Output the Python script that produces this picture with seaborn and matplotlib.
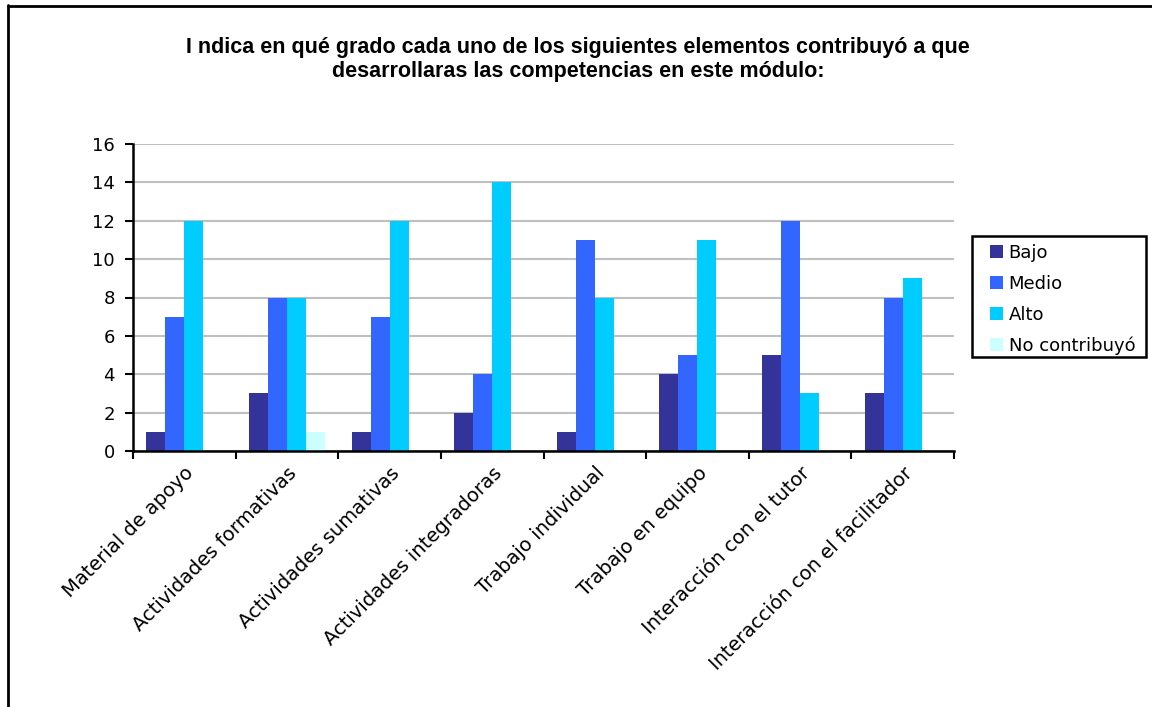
import matplotlib
matplotlib.use("Agg")
import matplotlib.pyplot as plt
import seaborn as sns
import pandas as pd
from matplotlib.lines import Line2D
from matplotlib.patches import Patch, Rectangle

categories = ["Material de apoyo", "Actividades formativas", "Actividades sumativas",
              "Actividades integradoras", "Trabajo individual", "Trabajo en equipo",
              "Interacción con el tutor", "Interacción con el facilitador"]
series = ["Bajo", "Medio", "Alto", "No contribuyó"]
bajo = [1, 3, 1, 2, 1, 4, 5, 3]
medio = [7, 8, 7, 4, 11, 5, 12, 8]
alto = [12, 8, 12, 14, 8, 11, 3, 9]
no_contribuyo = [0, 1, 0, 0, 0, 0, 0, 0]
colors = ["#333399", "#3366FF", "#00CCFF", "#CCFFFF"]
title = "I ndica en qué grado cada uno de los siguientes elementos contribuyó a que\ndesarrollaras las competencias en este módulo:"

rows = []
for s, vals in zip(series, [bajo, medio, alto, no_contribuyo]):
    for c, v in zip(categories, vals):
        rows.append({"Categoria": c, "Serie": s, "Valor": v})
df = pd.DataFrame(rows)

sns.set_theme(style="white")
plt.rcParams['font.family'] = ['DejaVu Sans']

W, H = 1152, 707
fig = plt.figure(figsize=(W/100, H/100), dpi=100)
ax = fig.add_axes([133/W, 1-451/H, (954-133)/W, (451-144)/H])

sns.barplot(data=df, x="Categoria", y="Valor", hue="Serie", order=categories,
            hue_order=series, palette=colors, width=0.74, saturation=1,
            edgecolor="none", linewidth=0, ax=ax, legend=False)

ax.set_xlim(-0.5, len(categories) - 0.5)
ax.set_ylim(0, 16)
ax.set_yticks(range(0, 17, 2))
ax.yaxis.grid(True, color="#BFBFBF", linewidth=1.5)
ax.set_axisbelow(True)
ax.set_xlabel("")
ax.set_ylabel("")
for side in ["top", "right"]:
    ax.spines[side].set_visible(False)
for side in ["left", "bottom"]:
    ax.spines[side].set_color("black")
    ax.spines[side].set_linewidth(1.8)

# ticks between categories
ax.set_xticks([i - 0.5 for i in range(len(categories) + 1)], minor=False)
ax.set_xticklabels([""] * (len(categories) + 1))
ax.tick_params(axis="x", which="major", direction="out", length=6, width=1.5, color="black", bottom=True)
ax.set_xticks(range(len(categories)), minor=True)
ax.set_xticklabels(categories, minor=True, rotation=45, ha="right", rotation_mode="anchor", fontsize=14)
ax.tick_params(axis="x", which="minor", length=0, pad=9)
ax.tick_params(axis="y", direction="out", length=6, width=1.5, color="black", left=True, labelsize=13, pad=7)
for lbl in ax.get_xticklabels(minor=True):
    lbl.set_color("black")
for lbl in ax.get_yticklabels():
    lbl.set_color("black")

fig.text(0.502, 1-37/H, title, ha="center", va="top", fontsize=15.5, fontweight="bold",
         family="Liberation Sans", linespacing=1.2, color="black")

# legend with manual frame
fig.add_artist(Rectangle((972/W, 1-357/H), (1146-972)/W, (357-236)/H, transform=fig.transFigure,
                         facecolor="white", edgecolor="black", linewidth=1.8))
handles = [Patch(facecolor=c, edgecolor="none", label=s) for c, s in zip(colors, series)]
leg = fig.legend(handles=handles, loc="upper left", bbox_to_anchor=(986/W, 1-240/H),
                 frameon=False, fontsize=13, handlelength=0.75, handleheight=0.75,
                 handletextpad=0.3, labelspacing=0.72, borderpad=0.2, borderaxespad=0)
for t in leg.get_texts():
    t.set_color("black")

# outer chart border (left and top visible)
fig.add_artist(Line2D([7.5/W, 7.5/W], [0, 1-5/H], color="black", linewidth=2, transform=fig.transFigure))
fig.add_artist(Line2D([7.5/W, 1], [1-5.5/H, 1-5.5/H], color="black", linewidth=2, transform=fig.transFigure))

fig.savefig("out.png", dpi=100, facecolor="white")
